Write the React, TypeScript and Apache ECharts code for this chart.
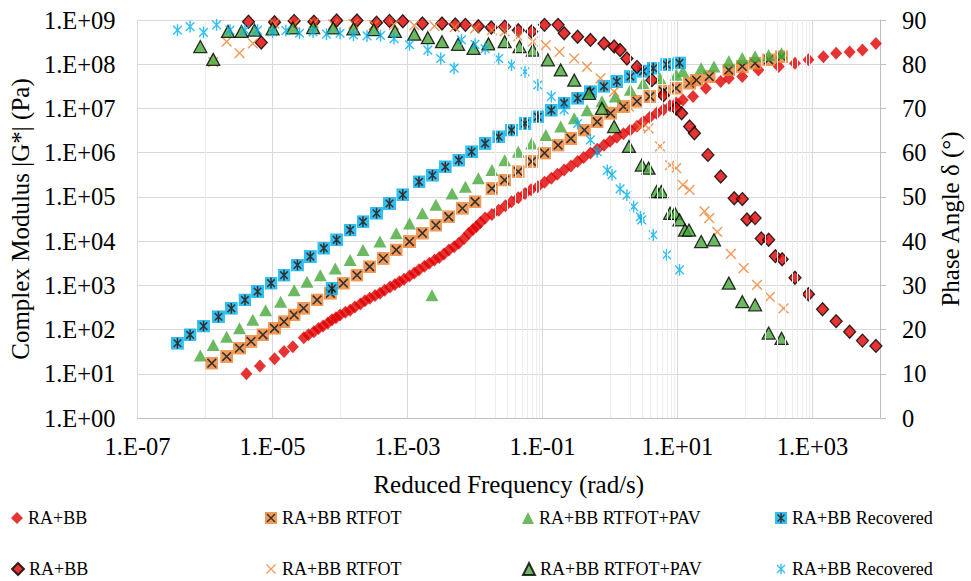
import React, { useEffect, useRef } from "react";
import * as echarts from "echarts";

type Pt = [number, number];

// ---------- |G*| (Pa) vs reduced frequency (rad/s) ----------
const gStarRA: Pt[] = [
  [4.1e-6, 10], [6.5e-6, 15], [1.07e-5, 22], [1.48e-5, 32], [2.0e-5, 41], [2.9e-5, 65],
  [3.4e-5, 76], [4.1e-5, 89], [4.8e-5, 105], [5.6e-5, 120], [6.6e-5, 141], [7.6e-5, 166],
  [8.7e-5, 186], [1.0e-4, 214], [1.2e-4, 245], [1.41e-4, 275], [1.66e-4, 324], [2.0e-4, 380],
  [2.34e-4, 447], [2.75e-4, 513], [3.3e-4, 589], [3.9e-4, 660], [4.57e-4, 776], [5.5e-4, 912],
  [6.5e-4, 1050], [7.6e-4, 1200], [8.9e-4, 1380], [1.07e-3, 1620], [1.26e-3, 1910], [1.48e-3, 2240],
  [1.78e-3, 2690], [2.1e-3, 3160], [2.51e-3, 3720], [2.95e-3, 4270], [3.47e-3, 5130], [4.1e-3, 6310],
  [4.9e-3, 7410], [5.75e-3, 8900], [6.9e-3, 11500], [8.1e-3, 15100], [9.3e-3, 18200], [1.05e-2, 21400],
  [1.2e-2, 26300], [1.41e-2, 33100], [1.78e-2, 39800], [2.24e-2, 50100], [2.82e-2, 63100],
  [3.47e-2, 77600], [4.37e-2, 95500], [5.5e-2, 1.2e5], [6.76e-2, 1.45e5], [8.5e-2, 1.7e5],
  [0.107, 2.14e5], [0.135, 2.63e5], [0.166, 3.24e5], [0.209, 4.07e5], [0.263, 5.0e5],
  [0.331, 6.31e5], [0.407, 7.76e5], [0.513, 9.77e5], [0.646, 1.2e6], [0.813, 1.48e6],
  [1.0, 1.82e6], [1.26, 2.24e6], [1.58, 2.69e6], [2.0, 3.24e6], [2.51, 3.98e6], [3.09, 5.0e6],
  [3.89, 6.31e6], [4.9, 7.76e6], [6.17, 9.33e6], [7.76, 1.15e7], [9.55, 1.32e7], [12.0, 1.55e7],
  [17.0, 1.86e7], [26.3, 2.88e7], [43.6, 4.07e7], [57.5, 4.79e7], [91, 5.25e7], [158, 7.41e7],
  [316, 8.9e7], [550, 1.05e8], [871, 1.26e8], [1450, 1.48e8], [2240, 1.78e8], [3550, 1.9e8],
  [5500, 2.09e8], [8700, 2.95e8],
];

const gStarRTFOT: Pt[] = [
  [1.26e-6, 17.4], [2.09e-6, 24.5], [3.24e-6, 38], [4.8e-6, 54], [7.2e-6, 76], [1.07e-5, 107],
  [1.48e-5, 151], [2.09e-5, 214], [2.88e-5, 302], [4.57e-5, 468], [7.2e-5, 660], [1.12e-4, 1120],
  [1.78e-4, 1700], [2.75e-4, 2630], [4.37e-4, 4070], [6.8e-4, 6310], [1.07e-3, 9770],
  [1.66e-3, 15100], [2.63e-3, 22900], [4.07e-3, 35500], [6.5e-3, 55000], [1.0e-2, 77600],
  [1.78e-2, 1.55e5], [2.75e-2, 2.4e5], [4.37e-2, 3.72e5], [6.9e-2, 6.31e5], [0.107, 9.77e5],
  [0.17, 1.48e6], [0.263, 2.09e6], [0.417, 3.24e6], [0.646, 5.0e6], [1.02, 7.76e6],
  [1.58, 1.1e7], [2.51, 1.45e7], [3.89, 1.86e7], [6.17, 2.45e7], [9.55, 2.88e7], [15.1, 3.72e7],
  [19.1, 4.37e7], [29.5, 5.25e7], [57.5, 7.41e7], [91.2, 8.9e7], [141, 1.05e8], [224, 1.26e8],
  [347, 1.48e8],
];

const gStarPAV: Pt[] = [
  [8.5e-7, 26], [1.32e-6, 45], [2.09e-6, 69], [3.24e-6, 107], [5.1e-6, 166], [7.9e-6, 275],
  [1.32e-5, 427], [2.09e-5, 776], [3.24e-5, 1200], [5.1e-5, 1700], [8.5e-5, 2400],
  [1.41e-4, 3720], [2.19e-4, 6310], [3.9e-4, 9770], [6.8e-4, 15100], [1.07e-3, 25100],
  [1.66e-3, 42700], [2.3e-3, 600], [2.63e-3, 66100], [4.57e-3, 1.2e5], [7.2e-3, 1.7e5],
  [1.12e-2, 2.63e5], [1.78e-2, 4.07e5], [2.75e-2, 6.76e5], [4.37e-2, 1.05e6], [6.9e-2, 1.62e6],
  [0.112, 2.51e6], [0.186, 3.89e6], [0.295, 6.03e6], [0.457, 9.12e6], [0.759, 1.45e7],
  [1.2, 1.86e7], [2.0, 2.63e7], [3.09, 3.72e7], [5.5, 4.79e7], [9.55, 5.75e7], [12, 6.9e7],
  [22.4, 8.1e7], [34.7, 8.9e7], [57.5, 1.17e8], [91, 1.38e8], [141, 1.51e8], [224, 1.62e8],
  [347, 1.78e8],
];

const gStarRecovered: Pt[] = [
  [3.9e-7, 49], [6.0e-7, 76], [9.5e-7, 120], [1.58e-6, 195], [2.45e-6, 302], [3.9e-6, 468],
  [6.0e-6, 724], [9.5e-6, 1120], [1.48e-5, 1700], [2.34e-5, 2880], [3.63e-5, 4470],
  [5.75e-5, 6920], [7.6e-5, 850], [8.9e-5, 10700], [1.41e-4, 17800], [2.19e-4, 27500],
  [3.47e-4, 42700], [5.4e-4, 70800], [8.5e-4, 1.12e5], [1.48e-3, 2.19e5], [2.34e-3, 3.09e5],
  [3.63e-3, 4.79e5], [5.75e-3, 6.76e5], [8.9e-3, 1.05e6], [1.41e-2, 1.62e6], [2.24e-2, 2.29e6],
  [3.47e-2, 3.24e6], [5.5e-2, 4.57e6], [8.5e-2, 6.46e6], [0.135, 9.12e6], [0.209, 1.32e7],
  [0.331, 1.7e7], [0.513, 2.4e7], [0.813, 3.16e7], [1.26, 4.07e7], [2.0, 5.25e7], [3.09, 6.9e7],
  [4.37, 8.1e7], [6.9, 9.8e7], [10.7, 1.07e8],
];

// ---------- Phase angle (°) vs reduced frequency (rad/s) ----------
const phaseRA: Pt[] = [
  [4.4e-6, 89.6], [6.8e-6, 84.9], [1.07e-5, 89.5], [2.09e-5, 89.8], [4.1e-5, 89.6], [8.9e-5, 89.9],
  [1.78e-4, 89.9], [3.47e-4, 89.4], [5.4e-4, 89.8], [8.5e-4, 89.7], [1.66e-3, 89.2], [3.24e-3, 89.2],
  [5.1e-3, 89.0], [7.2e-3, 88.9], [1.12e-2, 88.6], [1.74e-2, 88.3], [2.75e-2, 88.5], [4.37e-2, 87.7],
  [6.9e-2, 87.4], [0.107, 88.9], [0.17, 88.9], [0.209, 87.0], [0.331, 86.2], [0.513, 85.5],
  [0.813, 84.7], [1.15, 84.0], [1.41, 83.2], [1.78, 81.3], [2.51, 79.4], [4.17, 76.4], [6.17, 73.0],
  [9.55, 70.0], [11.5, 68.9], [15.1, 65.9], [17.8, 64.4], [28.2, 59.5], [43.6, 54.6], [69.2, 49.7],
  [91.2, 49.5], [107, 44.9], [141, 45.2], [174, 40.6], [224, 40.3], [282, 36.6], [355, 35.9],
  [550, 31.7], [871, 28.0], [1410, 24.6], [2240, 21.9], [3550, 19.5], [5500, 17.5], [8700, 16.3],
];

const phaseRTFOT: Pt[] = [
  [1.32e-6, 80.5], [2.09e-6, 85.1], [3.24e-6, 82.5], [5.1e-6, 84.7], [1.07e-5, 89.2], [2.09e-5, 89.0],
  [4.1e-5, 89.3], [7.9e-5, 89.0], [1.58e-4, 89.1], [3.16e-4, 88.9], [6.3e-4, 88.9], [1.26e-3, 88.8],
  [2.51e-3, 88.6], [5.0e-3, 88.4], [1.0e-2, 88.1], [1.78e-2, 87.7], [2.75e-2, 87.4], [4.37e-2, 86.3],
  [7.2e-2, 85.1], [0.112, 84.3], [0.178, 82.8], [0.295, 81.3], [0.457, 79.4], [0.724, 76.8],
  [1.15, 73.8], [1.91, 70.4], [2.82, 65.9], [3.72, 65.5], [5.5, 61.4], [7.76, 57.2], [9.55, 56.5],
  [12.0, 52.7], [15.1, 51.6], [25.1, 46.7], [29.5, 45.2], [38.9, 42.1], [61.7, 37.1], [95.5, 33.9],
  [151, 30.1], [234, 27.4], [372, 24.8],
];

const phasePAV: Pt[] = [
  [8.5e-7, 84.0], [1.32e-6, 81.1], [2.19e-6, 87.4], [3.47e-6, 87.4], [5.4e-6, 87.7], [1.0e-5, 88.0],
  [2.0e-5, 88.2], [4.0e-5, 88.3], [7.9e-5, 88.2], [1.58e-4, 88.0], [3.16e-4, 87.8], [6.5e-4, 87.4],
  [1.26e-3, 86.8], [2.0e-3, 86.0], [3.24e-3, 85.1], [5.6e-3, 84.5], [9.5e-3, 83.6], [1.58e-2, 84.6],
  [2.75e-2, 85.1], [4.57e-2, 84.0], [7.2e-2, 83.2], [0.12, 81.0], [0.186, 78.7], [0.295, 76.4],
  [0.49, 73.4], [0.759, 70.0], [1.15, 65.9], [1.91, 61.4], [2.95, 57.2], [3.72, 56.5], [4.9, 51.2],
  [5.75, 51.2], [7.76, 46.3], [9.12, 46.3], [10.7, 44.8], [12.9, 42.5], [14.8, 42.5], [22.4, 39.9],
  [34.7, 40.3], [57.5, 30.5], [91.2, 26.3], [141, 25.6], [224, 19.2], [347, 18.0],
];

const phaseRecovered: Pt[] = [
  [3.9e-7, 87.7], [6.0e-7, 88.5], [9.5e-7, 87.2], [1.48e-6, 88.9], [2.34e-6, 87.7], [3.9e-6, 87.7],
  [6.0e-6, 87.7], [1.0e-5, 87.3], [1.58e-5, 87.6], [2.51e-5, 87.0], [3.98e-5, 87.3], [6.3e-5, 86.8],
  [1.0e-4, 87.0], [1.58e-4, 86.6], [2.51e-4, 86.4], [3.98e-4, 86.5], [6.3e-4, 85.8], [1.07e-3, 84.4],
  [2.0e-3, 83.2], [3.1e-3, 81.3], [4.9e-3, 79.1], [6.3e-3, 85.5], [1.0e-2, 84.5], [1.41e-2, 83.5],
  [2.24e-2, 81.3], [3.47e-2, 79.8], [5.5e-2, 78.3], [8.5e-2, 75.3], [0.135, 72.7], [0.209, 69.7],
  [0.331, 66.6], [0.513, 62.9], [0.646, 60.2], [0.912, 56.0], [1.07, 55.0], [1.41, 51.8],
  [1.78, 50.4], [2.24, 47.8], [2.82, 45.5], [2.95, 44.8], [4.37, 41.4], [6.9, 36.9], [10.7, 33.5],
];

const seriesLabels = ["RA+BB", "RA+BB RTFOT", "RA+BB RTFOT+PAV", "RA+BB Recovered"];
const xLabelExponents = [-7, -5, -3, -1, 1, 3];
const xMinorDecades = [1e-6, 1e-4, 1e-2, 1, 1e2];
const xMinorMultipliers = [2, 3, 4, 5, 6, 7, 8, 9];

const FONT = "'Liberation Serif', 'Times New Roman', serif";
const RED = "#E00000";
const ORANGE = "#F2812F";
const GREEN = "#47A83A";
const BLUE = "#00B0F0";

const svgUrl = (inner: string) =>
  "image://data:image/svg+xml;charset=utf-8," +
  encodeURIComponent(
    `<svg xmlns="http://www.w3.org/2000/svg" width="24" height="24" viewBox="0 0 24 24">${inner}</svg>`
  );
const SYM_SQ_X = svgUrl(
  `<rect width="24" height="24" fill="${ORANGE}"/><path d="M4 4L20 20M20 4L4 20" stroke="#000" stroke-width="3" fill="none"/>`
);
const SYM_SQ_AST = svgUrl(
  `<rect width="24" height="24" fill="${BLUE}"/><path d="M5 5L19 19M19 5L5 19M12 2V22" stroke="#000" stroke-width="2.8" fill="none"/>`
);
const SYM_X = svgUrl(`<path d="M3 3L21 21M21 3L3 21" stroke="${ORANGE}" stroke-width="2.6" fill="none"/>`);
const SYM_AST = svgUrl(
  `<path d="M4 4L20 20M20 4L4 20M12 1V23" stroke="${BLUE}" stroke-width="2.6" fill="none"/>`
);

const expLabel = (v: number) => {
  const e = Math.round(Math.log10(v));
  return "1.E" + (e < 0 ? "-" : "+") + String(Math.abs(e)).padStart(2, "0");
};

const textBase = { fontFamily: FONT, color: "#000" };

function buildOption() {
  const minorLines = xMinorDecades.flatMap((d) => xMinorMultipliers.map((m) => ({ xAxis: m * d })));
  const gName = (i: number) => "g:" + seriesLabels[i];
  const dName = (i: number) => "d:" + seriesLabels[i];

  const legendLefts = [11, 265, 522, 775];
  const legendTops = [508, 559];

  const legends: any[] = [];
  [gName, dName].forEach((nm, row) => {
    seriesLabels.forEach((_, i) => {
      legends.push({
        orient: "horizontal",
        left: legendLefts[i],
        top: legendTops[row],
        padding: 0,
        itemWidth: 12,
        itemHeight: 12,
        selectedMode: false,
        data: [nm(i)],
        formatter: (n: string) => n.slice(2),
        textStyle: { ...textBase, fontSize: 18, lineHeight: 20 },
      });
    });
  });

  return {
    animation: false,
    backgroundColor: "#fff",
    textStyle: { fontFamily: FONT },
    grid: { left: 135, right: 85, top: 20, bottom: 163, containLabel: false },
    legend: legends,
    xAxis: {
      type: "log",
      logBase: 10,
      min: 1e-7,
      max: 1e4,
      interval: 1,
      name: "Reduced Frequency (rad/s)",
      nameLocation: "middle",
      nameGap: 54,
      nameTextStyle: { ...textBase, fontSize: 25 },
      axisLine: { show: true, lineStyle: { color: "#bfbfbf", width: 1 } },
      axisTick: { show: false },
      axisLabel: {
        ...textBase,
        fontSize: 24.5,
        margin: 16,
        formatter: (v: number) =>
          xLabelExponents.includes(Math.round(Math.log10(v))) ? expLabel(v) : "",
      },
      splitLine: { show: true, lineStyle: { color: ["#d9d9d9", "#ededed"], width: 1 } },
    },
    yAxis: [
      {
        type: "log",
        logBase: 10,
        min: 1,
        max: 1e9,
        interval: 1,
        position: "left",
        name: "Complex Modulus |G*| (Pa)",
        nameLocation: "middle",
        nameRotate: 90,
        nameGap: 104,
        nameTextStyle: { ...textBase, fontSize: 25 },
        axisLine: { show: false },
        axisTick: { show: false },
        axisLabel: { ...textBase, fontSize: 24.5, margin: 22, formatter: (v: number) => expLabel(v) },
        splitLine: { show: true, lineStyle: { color: "#d9d9d9", width: 1 } },
      },
      {
        type: "value",
        min: 0,
        max: 90,
        interval: 10,
        position: "right",
        name: "Phase Angle δ (°)",
        nameLocation: "middle",
        nameRotate: 90,
        nameGap: 58,
        nameTextStyle: { ...textBase, fontSize: 25 },
        axisLine: { show: true, lineStyle: { color: "#bfbfbf", width: 1 } },
        axisTick: { show: true, length: 6, lineStyle: { color: "#bfbfbf" } },
        axisLabel: { ...textBase, fontSize: 24.5, margin: 22 },
        splitLine: { show: false },
      },
    ],
    series: [
      {
        name: "minor-grid",
        type: "scatter",
        data: [],
        silent: true,
        z: 1,
        markLine: {
          silent: true,
          symbol: ["none", "none"],
          label: { show: false },
          lineStyle: { color: "#ededed", width: 1, type: "solid" },
          data: minorLines,
        },
      },
      {
        name: gName(0), type: "scatter", yAxisIndex: 0, data: gStarRA,
        symbol: "diamond", symbolSize: [12, 13], itemStyle: { color: RED }, z: 3,
      },
      {
        name: gName(1), type: "scatter", yAxisIndex: 0, data: gStarRTFOT,
        symbol: SYM_SQ_X, symbolSize: 13, itemStyle: { color: ORANGE }, z: 3,
      },
      {
        name: gName(2), type: "scatter", yAxisIndex: 0, data: gStarPAV,
        symbol: "triangle", symbolSize: [13, 12], itemStyle: { color: GREEN }, z: 3,
      },
      {
        name: gName(3), type: "scatter", yAxisIndex: 0, data: gStarRecovered,
        symbol: SYM_SQ_AST, symbolSize: 13, itemStyle: { color: BLUE }, z: 3,
      },
      {
        name: dName(0), type: "scatter", yAxisIndex: 1, data: phaseRA,
        symbol: "diamond", symbolSize: [12, 13],
        itemStyle: { color: RED, borderColor: "#000", borderWidth: 1.3 }, z: 3,
      },
      {
        name: dName(1), type: "scatter", yAxisIndex: 1, data: phaseRTFOT,
        symbol: SYM_X, symbolSize: 13, itemStyle: { color: ORANGE }, z: 3,
      },
      {
        name: dName(2), type: "scatter", yAxisIndex: 1, data: phasePAV,
        symbol: "triangle", symbolSize: [13, 12],
        itemStyle: { color: GREEN, borderColor: "#000", borderWidth: 1.3 }, z: 3,
      },
      {
        name: dName(3), type: "scatter", yAxisIndex: 1, data: phaseRecovered,
        symbol: SYM_AST, symbolSize: 13, itemStyle: { color: BLUE }, z: 3,
      },
    ],
  };
}

export default function App() {
  const ref = useRef<HTMLDivElement>(null);
  useEffect(() => {
    if (!ref.current) return;
    const chart = echarts.init(ref.current, undefined, { renderer: "svg" });
    chart.setOption(buildOption() as any);
    return () => chart.dispose();
  }, []);
  return (
    <div
      ref={ref}
      style={{ position: "fixed", left: 0, top: 0, width: 971, height: 581, background: "#fff" }}
    />
  );
}
